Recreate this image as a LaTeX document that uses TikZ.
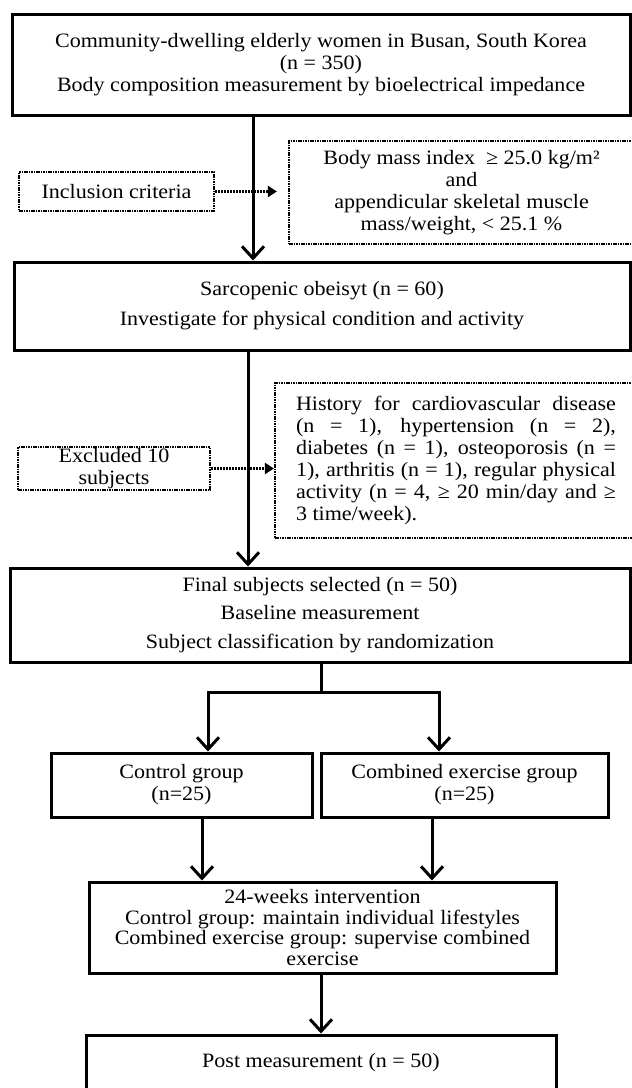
\documentclass[tikz,border=0pt]{standalone}
\usepackage{fontspec}
\setmainfont{Liberation Serif}[FakeStretch=1.08]
\usetikzlibrary{arrows.meta}
\begin{document}
\begin{tikzpicture}[x=1pt,y=-1pt,
  txt/.style={align=center, inner sep=0pt, font=\fontsize{20.4}{22}\selectfont},
  solidbox/.style={txt, draw, line width=3pt},
  dotbox/.style={txt, draw, line width=2.2pt, dash pattern=on 1.6pt off 0.8pt},
  arr/.style={line width=3pt, -{Straight Barb[length=12pt,width=22pt]}},
  darr/.style={line width=2.2pt, dash pattern=on 2pt off 1pt, -{Triangle[length=9pt,width=11pt]}}]
\clip (0,0) rectangle (632,1088);
\fill[white] (0,0) rectangle (632,1088);

% main boxes
\node[solidbox, minimum width=618pt, minimum height=101pt] (b1) at (321,64.5)
  {Community-dwelling elderly women in Busan, South Korea\\(n = 350)\\Body composition measurement by bioelectrical impedance};
\node[solidbox, minimum width=616pt, minimum height=88pt] (b2) at (322,306)
  {Sarcopenic obeisyt (n = 60)\\[8pt]Investigate for physical condition and activity};
\node[solidbox, minimum width=620pt, minimum height=94pt] (b3) at (320,615)
  {Final subjects selected (n = 50)\\[6pt]Baseline measurement\\[7pt]Subject classification by randomization};
\node[solidbox, minimum width=261pt, minimum height=64pt] (ctrl) at (181.5,785)
  {Control group\\(n=25)};
\node[solidbox, minimum width=287pt, minimum height=64pt] (comb) at (464.5,785)
  {Combined exercise group\\(n=25)};
\node[solidbox, minimum width=467pt, minimum height=91pt, font=\fontsize{20.4}{20.5}\selectfont] (b4) at (322.5,927.5)
  {24-weeks intervention\\Control group: maintain individual lifestyles\\Combined exercise group: supervise combined\\exercise};
\node[solidbox, minimum width=470pt, minimum height=56pt] (post) at (321,1063)
  {Post measurement (n = 50)};

% side boxes
\node[dotbox, minimum width=195pt, minimum height=39pt] (incl) at (116.5,191.5)
  {Inclusion criteria};
\node[dotbox, minimum width=345pt, minimum height=103pt] (crit) at (461.5,192.5)
  {Body mass index \ ≥ 25.0 kg/m²\\and\\appendicular skeletal muscle\\mass/weight, < 25.1 \%};
\node[dotbox, minimum width=192pt, minimum height=43pt] (exc) at (114,468.5)
  {Excluded 10\\subjects};
\node[dotbox, minimum width=362pt, minimum height=155pt, align=left] (excl) at (456,460.5)
  {\makebox[320pt][s]{History for cardiovascular disease}\\
   \makebox[320pt][s]{(n = 1), hypertension (n = 2),}\\
   \makebox[320pt][s]{diabetes (n = 1), osteoporosis (n =}\\
   \makebox[320pt][s]{1), arthritis (n = 1), regular physical}\\
   \makebox[320pt][s]{activity (n = 4, ≥ 20 min/day and ≥}\\
   \makebox[320pt][l]{3 time/week).}};

% connectors
\coordinate (a1) at (253,0);
\coordinate (a2) at (248,0);
\draw[arr] (b1.south -| a1) -- (b2.north -| a1);
\draw[arr] (b2.south -| a2) -- (b3.north -| a2);
\draw[darr, shorten >=11pt] (incl.east) -- (crit.west |- incl.east);
\draw[darr] (exc.east) -- (excl.west |- exc.east);

\coordinate (j) at (321,692);
\coordinate (jl) at (208,692);
\coordinate (jr) at (439,692);
\draw[arr] (b3.south -| j) -- (j) -- (jl) -- (ctrl.north -| jl);
\draw[arr] (j) -- (jr) -- (comb.north -| jr);

\coordinate (c1) at (202,0);
\coordinate (c2) at (432,0);
\draw[arr] (ctrl.south -| c1) -- (b4.north -| c1);
\draw[arr] (comb.south -| c2) -- (b4.north -| c2);
\coordinate (c3) at (321,0);
\draw[arr] (b4.south -| c3) -- (post.north -| c3);
\end{tikzpicture}
\end{document}
